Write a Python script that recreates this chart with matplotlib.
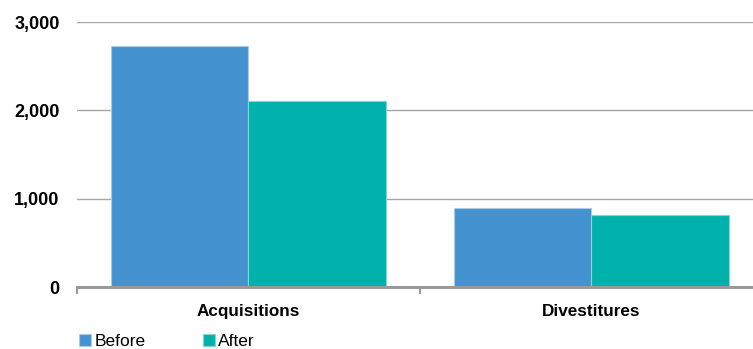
import matplotlib.pyplot as plt
import numpy as np

categories = ['Acquisitions', 'Divestitures']
before = [2730, 900]
after = [2110, 820]
series_names = ['Before', 'After']
yticks = [0, 1000, 2000, 3000]

plt.rcParams['font.family'] = ['Liberation Sans', 'DejaVu Sans']

fig = plt.figure(figsize=(7.53, 3.49), dpi=100)
ax = fig.add_axes([77/753, 1 - 287/349, 1 - 77/753, (287 - 22)/349])

x = np.arange(len(categories))
w = 0.4
b1 = ax.bar(x - w/2, before, w, color='#4493d0', edgecolor='#a9cbe8', linewidth=0.8, label=series_names[0], zorder=3)
b2 = ax.bar(x + w/2, after, w, color='#00b2ab', edgecolor='#7fd8d4', linewidth=0.8, label=series_names[1], zorder=3)

ax.set_yticks(yticks)
ax.set_yticklabels([f'{v:,}' for v in yticks], fontsize=13, fontweight='bold')
ax.tick_params(axis='y', length=0, pad=12.5)
ax.yaxis.grid(True, color='#a6a6a6', linewidth=1.0, zorder=0)
ax.set_axisbelow(True)

# category labels with boundary ticks
ax.set_xticks(x)
ax.set_xticklabels(categories, fontsize=12.3, fontweight='bold')
ax.tick_params(axis='x', length=0, pad=12)
ax.set_xticks([-0.5, 0.5, 1.5], minor=True)
ax.tick_params(axis='x', which='minor', length=5, width=1.5, color='#999999')

ax.set_xlim(-0.5, 1.471)
ax.set_ylim(0, 3000)

for s in ['top', 'right', 'left']:
    ax.spines[s].set_visible(False)
ax.spines['bottom'].set_color('#999999')
ax.spines['bottom'].set_linewidth(2.2)
ax.spines['bottom'].set_zorder(4)

fig.legend(handles=[b1, b2], labels=series_names, loc='lower left',
           bbox_to_anchor=(63/753, -0.045), ncol=2, frameon=False,
           fontsize=12.5, handlelength=0.7, handleheight=0.7,
           handletextpad=0.2, columnspacing=3.3)

fig.savefig('out.png', dpi=100)
